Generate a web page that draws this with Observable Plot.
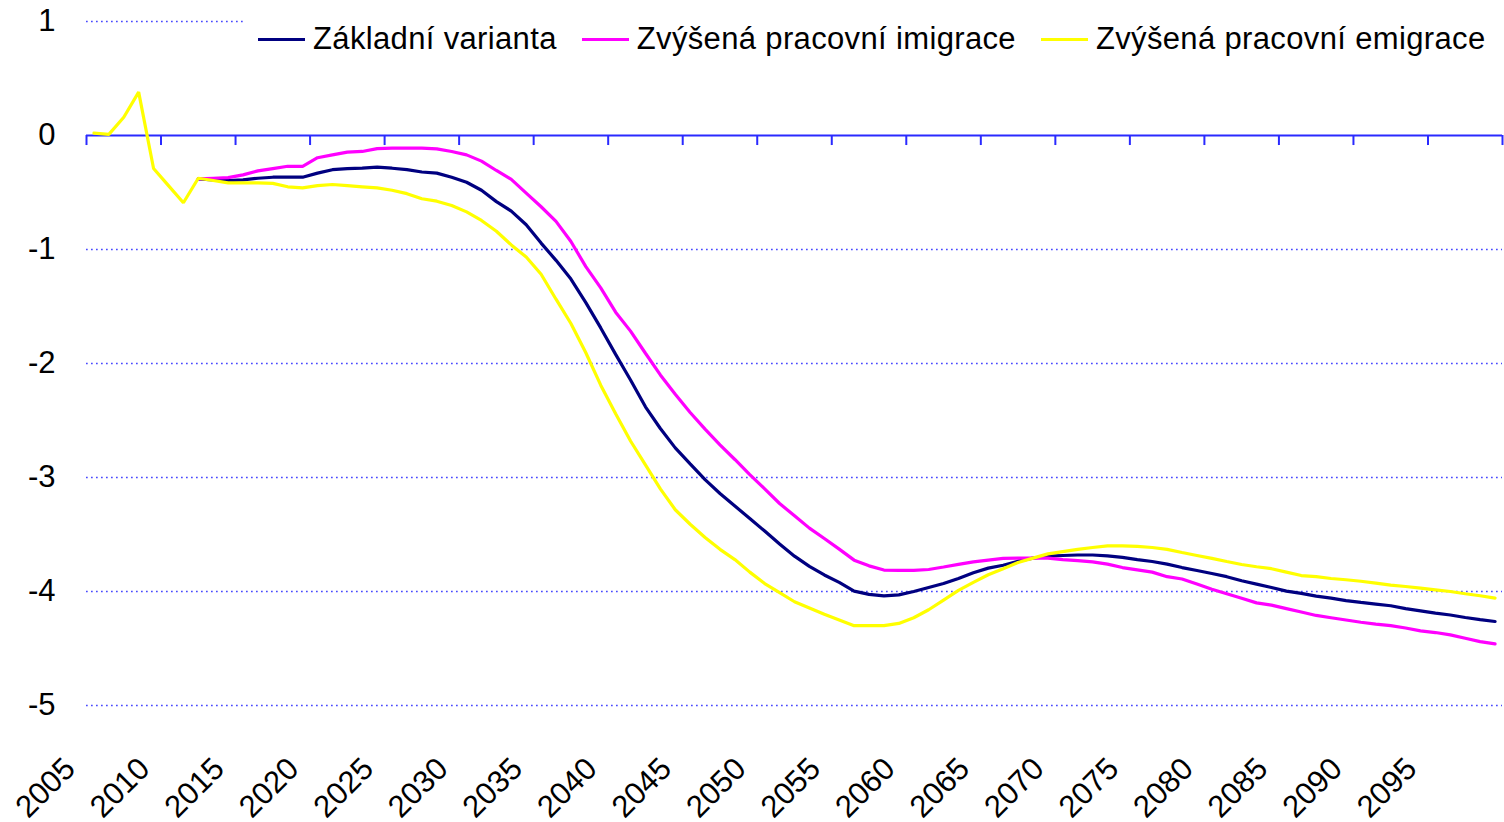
<!DOCTYPE html>
<html>
<head>
<meta charset="utf-8">
<script src="https://cdn.jsdelivr.net/npm/d3@7"></script>
<script src="https://cdn.jsdelivr.net/npm/@observablehq/plot@0.6"></script>
<style>
  html, body { margin: 0; padding: 0; background: #ffffff; }
  #wrap { position: relative; width: 1504px; height: 822px; font-family: "Liberation Sans", Arial, sans-serif; }
  #legend { position: absolute; left: 243px; top: 10px; width: 1261px; height: 58px; background: #ffffff;
            display: flex; align-items: center; font-size: 31px; letter-spacing: 0.35px; color: #000; white-space: nowrap; }
  .item { display: flex; align-items: center; }
  .sw { width: 47px; height: 3px; margin-right: 8px; }
  .item + .item { margin-left: 25px; }
</style>
</head>
<body>
<div id="wrap"><div id="chart"></div><div id="legend"></div></div>
<script>
// Categories (years)
const years = [2005,2006,2007,2008,2009,2010,2011,2012,2013,2014,2015,2016,2017,2018,2019,2020,2021,2022,2023,2024,2025,2026,2027,2028,2029,2030,2031,2032,2033,2034,2035,2036,2037,2038,2039,2040,2041,2042,2043,2044,2045,2046,2047,2048,2049,2050,2051,2052,2053,2054,2055,2056,2057,2058,2059,2060,2061,2062,2063,2064,2065,2066,2067,2068,2069,2070,2071,2072,2073,2074,2075,2076,2077,2078,2079,2080,2081,2082,2083,2084,2085,2086,2087,2088,2089,2090,2091,2092,2093,2094,2095,2096,2097,2098,2099];

const seriesNames = ["Základní varianta", "Zvýšená pracovní imigrace", "Zvýšená pracovní emigrace"];
const seriesColors = ["#000080", "#ff00ff", "#ffff00"];

// Základní varianta: 2012–2099
const zakladni = [-0.38,-0.39,-0.395,-0.39,-0.375,-0.366,-0.366,-0.366,-0.33,-0.30,-0.29,-0.287,-0.278,-0.287,-0.30,-0.32,-0.33,-0.366,-0.41,-0.48,-0.58,-0.663,-0.783,-0.944,-1.095,-1.259,-1.466,-1.688,-1.92,-2.145,-2.38,-2.57,-2.74,-2.88,-3.019,-3.14,-3.25,-3.36,-3.47,-3.584,-3.69,-3.78,-3.855,-3.92,-3.997,-4.025,-4.038,-4.03,-4.0,-3.965,-3.93,-3.885,-3.835,-3.795,-3.77,-3.734,-3.707,-3.69,-3.684,-3.68,-3.68,-3.687,-3.70,-3.72,-3.737,-3.76,-3.79,-3.816,-3.842,-3.87,-3.906,-3.935,-3.965,-3.997,-4.016,-4.04,-4.058,-4.08,-4.096,-4.11,-4.125,-4.15,-4.17,-4.19,-4.206,-4.228,-4.246,-4.263];

// Zvýšená pracovní imigrace: 2012–2099
const imigrace = [-0.38,-0.375,-0.37,-0.345,-0.31,-0.29,-0.27,-0.27,-0.195,-0.17,-0.146,-0.14,-0.115,-0.11,-0.11,-0.11,-0.117,-0.14,-0.17,-0.225,-0.307,-0.385,-0.505,-0.625,-0.753,-0.93,-1.15,-1.337,-1.55,-1.716,-1.91,-2.10,-2.27,-2.43,-2.576,-2.713,-2.842,-2.974,-3.10,-3.228,-3.336,-3.444,-3.535,-3.628,-3.725,-3.775,-3.812,-3.815,-3.815,-3.807,-3.785,-3.762,-3.74,-3.725,-3.71,-3.707,-3.707,-3.707,-3.72,-3.73,-3.74,-3.76,-3.79,-3.81,-3.83,-3.87,-3.89,-3.935,-3.98,-4.02,-4.06,-4.10,-4.12,-4.15,-4.18,-4.21,-4.23,-4.25,-4.27,-4.286,-4.30,-4.32,-4.345,-4.36,-4.38,-4.41,-4.44,-4.46];

// Zvýšená pracovní emigrace: 2005–2099
const emigrace = [0.02,0.01,0.16,0.38,-0.29,-0.44,-0.59,-0.375,-0.395,-0.415,-0.415,-0.415,-0.42,-0.45,-0.46,-0.44,-0.43,-0.44,-0.45,-0.46,-0.48,-0.51,-0.555,-0.576,-0.614,-0.67,-0.745,-0.84,-0.96,-1.066,-1.217,-1.436,-1.649,-1.906,-2.19,-2.44,-2.68,-2.89,-3.10,-3.283,-3.41,-3.526,-3.63,-3.72,-3.83,-3.93,-4.01,-4.09,-4.145,-4.20,-4.25,-4.30,-4.30,-4.30,-4.28,-4.23,-4.16,-4.075,-3.99,-3.92,-3.853,-3.80,-3.745,-3.707,-3.67,-3.65,-3.63,-3.614,-3.60,-3.60,-3.605,-3.614,-3.63,-3.658,-3.684,-3.71,-3.737,-3.763,-3.783,-3.80,-3.83,-3.86,-3.87,-3.886,-3.897,-3.91,-3.926,-3.944,-3.956,-3.97,-3.985,-4.00,-4.02,-4.037,-4.058];

// Tick labels and axis marks
const xTickLabels = [2005,2010,2015,2020,2025,2030,2035,2040,2045,2050,2055,2060,2065,2070,2075,2080,2085,2090,2095];
const xTickMarks = [2004.5,2009.5,2014.5,2019.5,2024.5,2029.5,2034.5,2039.5,2044.5,2049.5,2054.5,2059.5,2064.5,2069.5,2074.5,2079.5,2084.5,2089.5,2094.5,2099.5];
const yTicks = [1,0,-1,-2,-3,-4,-5];
const yGrid = [1,-1,-2,-3,-4,-5];

function toRows(values, name) {
  const offset = years.length - values.length;
  return values.map((v, i) => ({year: years[i + offset], value: v, series: name}));
}
const data = [toRows(zakladni, seriesNames[0]), toRows(imigrace, seriesNames[1]), toRows(emigrace, seriesNames[2])];

const chart = Plot.plot({
  width: 1504,
  height: 822,
  marginLeft: 86,
  marginRight: 2,
  marginTop: 21,
  marginBottom: 117,
  x: {domain: [2004.5, 2099.5]},
  y: {domain: [-5, 1]},
  style: {fontFamily: "Liberation Sans, Arial, sans-serif", background: "#ffffff", overflow: "visible", color: "#000"},
  marks: [
    Plot.ruleY(yGrid, {stroke: "#4848ff", strokeWidth: 1.7, strokeDasharray: "1.7,3.3"}),
    Plot.ruleY([0], {stroke: "#2a2aff", strokeWidth: 2}),
    Plot.ruleX(xTickMarks, {x: d => d, y1: 0, y2: -0.088, stroke: "#2a2aff", strokeWidth: 2}),
    Plot.axisY(yTicks, {tickSize: 0, tickPadding: 31, fontSize: 31, tickFormat: d => String(d), label: null, fill: "#000"}),
    Plot.axisX(xTickLabels, {anchor: "bottom", tickSize: 0, tickPadding: 58, tickRotate: -45, textAnchor: "end", lineAnchor: "middle", dx: -24, fontSize: 31, tickFormat: d => String(d), label: null, fill: "#000"}),
    ...data.map((rows, i) => Plot.line(rows, {x: "year", y: "value", stroke: seriesColors[i], strokeWidth: 3.2, strokeLinejoin: "miter"}))
  ]
});
document.getElementById("chart").appendChild(chart);

const legend = document.getElementById("legend");
legend.style.paddingLeft = "15px";
seriesNames.forEach((name, i) => {
  const item = document.createElement("div");
  item.className = "item";
  const sw = document.createElement("div");
  sw.className = "sw";
  sw.style.background = seriesColors[i];
  const label = document.createElement("span");
  label.textContent = name;
  item.appendChild(sw);
  item.appendChild(label);
  legend.appendChild(item);
});
</script>
</body>
</html>
